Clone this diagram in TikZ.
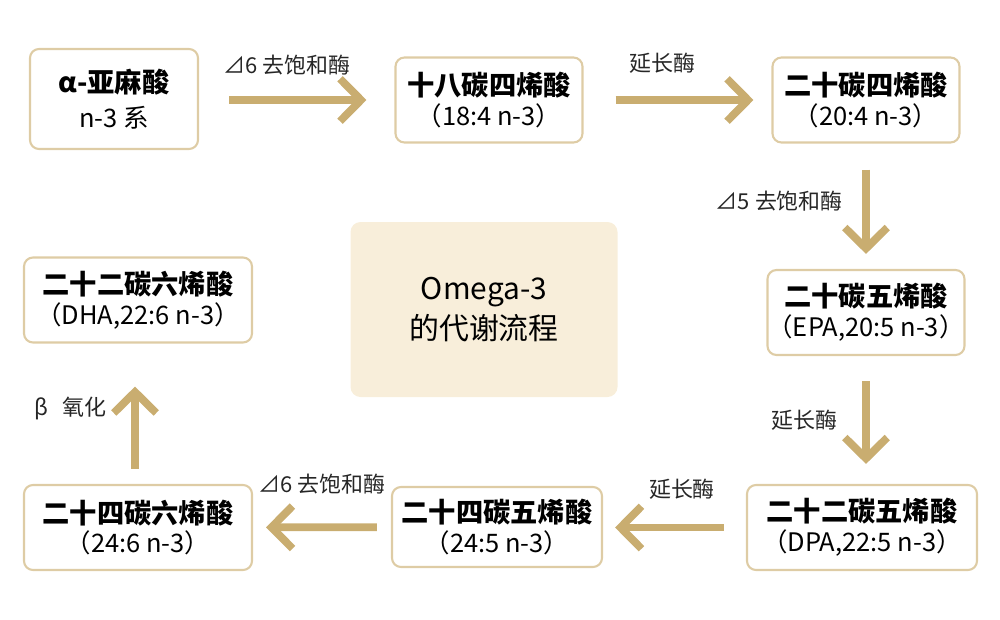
\documentclass[tikz,border=0pt]{standalone}
\usepackage{fontspec}
\setmainfont{Noto Sans CJK SC}
\usetikzlibrary{arrows.meta}
\definecolor{oro}{RGB}{201,173,112}
\definecolor{borde}{RGB}{222,204,165}
\definecolor{crema}{RGB}{248,238,218}
\begin{document}
\begin{tikzpicture}[
        bloque/.style={draw=borde, line width=1.2pt, rounded corners=0.18cm, align=center,
        minimum width=3.74cm, minimum height=1.7cm, fill=white, inner xsep=0pt, inner ysep=2pt},
        flecha/.style={draw=oro, line width=4.4pt, -{Straight Barb[length=0.42cm,width=0.85cm]}},
        etiqueta/.style={font=\fontsize{12.5}{15}\selectfont, text=black!85, inner sep=1pt}
    ]
        \useasboundingbox (0,0) rectangle (20,-12.38);
        \newcommand{\titulo}[1]{{\fontsize{15.5}{19}\selectfont\bfseries #1}}
        \newcommand{\sub}[1]{{\fontsize{14.5}{17}\selectfont #1}}
        \node[bloque, minimum width=3.36cm, minimum height=2cm] (ala) at (2.28,-1.98) {\titulo{α-亚麻酸}\\[5pt]\sub{n-3 系}};
        \node[bloque] (c18) at (9.78,-2.0) {\titulo{十八碳四烯酸}\\[2pt]\sub{（18:4 n-3）}};
        \node[bloque] (c20a) at (17.32,-2.0) {\titulo{二十碳四烯酸}\\[2pt]\sub{（20:4 n-3）}};
        \node[bloque] (epa) at (17.32,-6.25) {\titulo{二十碳五烯酸}\\[2pt]\sub{（EPA,20:5 n-3）}};
        \node[bloque, minimum width=4.6cm] (dpa) at (17.24,-10.55) {\titulo{二十二碳五烯酸}\\[2pt]\sub{（DPA,22:5 n-3）}};
        \node[bloque, minimum width=4.2cm, minimum height=1.6cm] (c24a) at (9.94,-10.54) {\titulo{二十四碳五烯酸}\\[2pt]\sub{（24:5 n-3）}};
        \node[bloque, minimum width=4.56cm] (c24b) at (2.76,-10.55) {\titulo{二十四碳六烯酸}\\[2pt]\sub{（24:6 n-3）}};
        \node[bloque, minimum width=4.56cm] (dha) at (2.76,-6.0) {\titulo{二十二碳六烯酸}\\[2pt]\sub{（DHA,22:6 n-3）}};
        \node[draw=none, fill=crema, rounded corners=0.2cm, minimum width=5.34cm, minimum height=3.5cm,
        align=center, font=\fontsize{17}{23}\selectfont] (omega) at (9.68,-6.19) {Omega-3\\的代谢流程};
        \draw[flecha, shorten <=0.6cm, shorten >=0.56cm] (ala.east |- c18) -- (c18)
            node[etiqueta, midway, above=0.38cm, xshift=-0.2cm] {⊿6 去饱和酶};
        \draw[flecha, shorten <=0.64cm, shorten >=0.36cm] (c18) -- (c20a)
            node[etiqueta, midway, above=0.42cm, xshift=-0.3cm] {延长酶};
        \draw[flecha, shorten <=0.52cm, shorten >=0.3cm] (c20a) -- (epa)
            node[etiqueta, midway, left=0.35cm, yshift=0.1cm] {⊿5 去饱和酶};
        \draw[flecha, shorten <=0.5cm, shorten >=0.4cm] (epa) -- (dpa.north -| epa)
            node[etiqueta, midway, left=0.45cm] {延长酶};
        \draw[flecha, shorten <=0.44cm, shorten >=0.24cm] (dpa) -- (c24a.east |- dpa)
            node[etiqueta, midway, above=0.45cm, xshift=0.15cm] {延长酶};
        \draw[flecha, shorten <=0.28cm, shorten >=0.26cm] (c24a) -- (c24b)
            node[etiqueta, midway, above=0.55cm] {⊿6 去饱和酶};
        \draw[flecha, shorten <=0.3cm, shorten >=0.86cm] (c24b.north -| 2.7,0) -- (dha.south -| 2.7,0)
            node[etiqueta, midway, left=0.45cm, yshift=0.1cm] {β\hspace{0.3cm}氧化};
    \end{tikzpicture}
\end{document}
